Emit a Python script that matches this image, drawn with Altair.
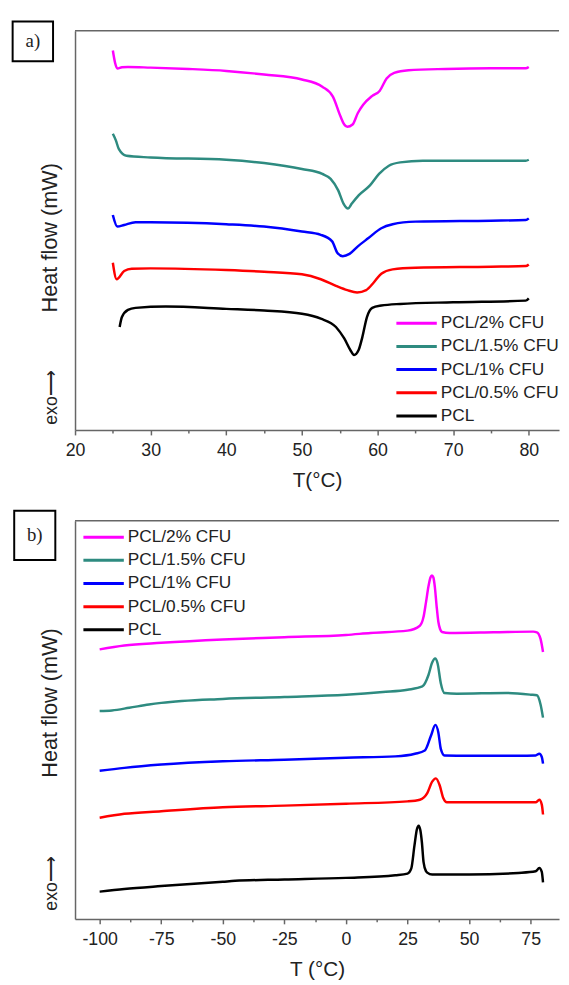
import altair as alt
import pandas as pd

series = ["PCL/2% CFU", "PCL/1.5% CFU", "PCL/1% CFU", "PCL/0.5% CFU", "PCL"]
colors = ["#FF00FF", "#2E8B80", "#0000FF", "#FF0000", "#000000"]

# ---------------- panel a (heating) ----------------
a_T_2 = [25.0, 25.3, 25.6, 26.2, 27.0, 30.0, 35.0, 40.0, 45.0, 50.0, 52.7, 54.1, 55.1, 55.6, 56.0, 56.7, 57.4, 58.1, 59.3, 60.3, 61.2, 62.2, 64.1, 69.0, 75.0, 79.6, 80.0]
a_H_2 = [115.3, 111.5, 109.8, 110.2, 110.3, 110.1, 109.7, 109.1, 108.0, 106.5, 104.3, 101.3, 95.3, 92.8, 92.1, 92.8, 96.3, 98.8, 101.5, 103.1, 106.8, 108.5, 109.3, 109.7, 109.9, 109.9, 110.3]

a_T_15 = [25.0, 25.4, 25.8, 26.8, 30.0, 40.0, 45.0, 50.0, 52.7, 53.8, 54.8, 55.5, 56.1, 56.6, 57.5, 59.0, 60.2, 61.5, 63.0, 66.0, 75.0, 79.6, 80.0]
a_H_15 = [90.0, 88.0, 85.3, 83.3, 82.8, 82.1, 81.1, 79.3, 77.8, 76.3, 72.8, 68.8, 67.3, 68.8, 71.3, 74.3, 77.8, 80.3, 81.3, 81.8, 81.8, 81.8, 82.1]

a_T_1 = [25.0, 25.6, 26.5, 28.0, 30.0, 40.0, 45.0, 50.0, 52.5, 54.0, 54.7, 55.4, 56.3, 57.4, 58.8, 60.5, 62.0, 65.0, 75.0, 79.6, 80.0]
a_H_1 = [65.3, 61.8, 62.3, 63.1, 63.1, 62.5, 61.8, 60.3, 59.3, 57.3, 53.8, 52.8, 53.5, 55.8, 58.3, 61.3, 62.5, 63.3, 63.6, 63.8, 64.3]

a_T_05 = [25.0, 25.5, 26.5, 27.5, 30.0, 40.0, 45.0, 50.0, 52.5, 54.5, 56.0, 57.3, 58.5, 59.5, 60.5, 62.0, 65.0, 75.0, 79.6, 80.0]
a_H_05 = [50.8, 45.8, 48.3, 49.0, 49.1, 48.6, 48.1, 47.3, 45.8, 43.8, 42.5, 41.8, 42.5, 44.8, 47.5, 48.8, 49.3, 49.6, 49.8, 50.3]

a_T_0 = [25.9, 26.2, 27.0, 28.0, 32.0, 40.0, 45.0, 50.0, 52.5, 54.5, 55.6, 56.4, 56.9, 57.5, 58.0, 58.6, 59.3, 60.5, 63.0, 70.0, 79.6, 80.0]
a_H_0 = [31.3, 34.3, 36.5, 37.1, 37.5, 36.8, 36.3, 35.3, 33.8, 31.3, 27.8, 24.3, 22.8, 24.3, 28.3, 34.3, 37.1, 37.8, 38.3, 38.8, 39.3, 40.0]

# ---------------- panel b (cooling) ----------------
b_T_2 = [-100, -90, -75, -50, -25, 0, 10, 25, 30, 31.5, 32.5, 33.5, 34.3, 34.9, 35.5, 36.1, 36.8, 37.5, 38.2, 39, 42, 60, 76, 77.5, 79, 80]
b_H_2 = [82.1, 83.3, 84.1, 85.1, 85.8, 86.5, 87.1, 87.8, 89.3, 92.0, 96.5, 101.3, 104.0, 104.6, 104.0, 101.0, 95.3, 90.5, 88.3, 87.4, 87.1, 87.3, 87.5, 87.3, 85.3, 81.3]

b_T_15 = [-100, -95, -88, -80, -75, -50, -25, 0, 15, 25, 31, 33.5, 35, 36.2, 37.2, 38.5, 40, 45, 65, 75, 77.5, 79, 80]
b_H_15 = [63.3, 63.5, 64.3, 65.3, 65.8, 67.0, 67.6, 68.3, 69.1, 69.8, 70.8, 74.3, 78.1, 79.3, 77.8, 71.8, 68.8, 68.6, 68.8, 68.3, 68.1, 65.3, 61.3]

b_T_1 = [-100, -90, -75, -50, -25, 0, 20, 28, 32, 34.5, 36.3, 37.5, 38.5, 40, 50, 70, 77, 78.5, 79.5, 80]
b_H_1 = [45.1, 46.0, 47.0, 48.0, 48.5, 49.1, 49.5, 50.3, 51.3, 55.8, 59.1, 56.8, 51.8, 49.8, 49.7, 49.7, 49.8, 50.3, 49.3, 47.3]

b_T_05 = [-100, -90, -75, -50, -25, 0, 25, 30, 33, 35, 36.5, 38, 39.5, 41, 60, 77, 78.5, 79.5, 80]
b_H_05 = [30.8, 32.0, 32.8, 34.0, 34.5, 35.1, 35.8, 36.3, 38.3, 41.8, 42.8, 40.8, 36.8, 35.5, 35.5, 35.5, 36.3, 34.8, 31.8]

b_T_0 = [-100, -90, -75, -50, -45, -25, 0, 20, 25, 26.5, 27.8, 28.8, 29.5, 30.2, 30.8, 31.5, 32.5, 33, 35, 50, 70, 77, 78.5, 79.5, 80]
b_H_0 = [8.3, 9.1, 10.0, 11.3, 11.6, 12.0, 12.5, 13.3, 13.8, 15.3, 22.3, 27.3, 28.4, 27.0, 23.5, 17.3, 14.5, 14.1, 13.5, 13.5, 14.0, 14.5, 15.5, 14.3, 11.1]

a_ticks = [20, 25, 30, 35, 40, 45, 50, 55, 60, 65, 70, 75, 80]
b_ticks = [-100, -87.5, -75, -62.5, -50, -37.5, -25, -12.5, 0, 12.5, 25, 37.5, 50, 62.5, 75]


def frame(pairs):
    rows = []
    for name, (ts, hs) in zip(series, pairs):
        for i, (t, h) in enumerate(zip(ts, hs)):
            rows.append({"T": t, "H": h, "series": name, "i": i})
    return pd.DataFrame(rows)


df_a = frame([(a_T_2, a_H_2), (a_T_15, a_H_15), (a_T_1, a_H_1), (a_T_05, a_H_05), (a_T_0, a_H_0)])
df_b = frame([(b_T_2, b_H_2), (b_T_15, b_H_15), (b_T_1, b_H_1), (b_T_05, b_H_05), (b_T_0, b_H_0)])

W = 491
one = pd.DataFrame({"k": [0]})
FONT = "Liberation Sans"


def panel(df, xdom, ticks, major, title, H, legx, legy, letter, box, ylab_y, exo_y):
    lines = alt.Chart(df).mark_line(strokeWidth=2.5, clip=True, interpolate="monotone").encode(
        x=alt.X("T:Q", scale=alt.Scale(domain=xdom, nice=False, zero=False),
                axis=alt.Axis(values=ticks, grid=False, labelFlush=False,
                              labelExpr=f"datum.value % {major} === 0 ? '' + datum.value : ''",
                              tickSize={"condition": {"test": f"datum.value % {major} === 0", "value": 5}, "value": 3},
                              title=title)),
        y=alt.Y("H:Q", scale=alt.Scale(domain=[0, 121.3], nice=False, zero=False),
                axis=alt.Axis(labels=False, ticks=False, grid=False, title=None)),
        color=alt.Color("series:N", sort=series,
                        scale=alt.Scale(domain=series, range=colors),
                        legend=alt.Legend(orient="none", legendX=legx, legendY=legy, title=None,
                                          symbolType="M-4.1,0H4.1", symbolSize=100, symbolStrokeWidth=3,
                                          labelFont=FONT, labelFontSize=17.5, labelColor="#222",
                                          labelOffset=15.75, rowPadding=4.5, padding=0, labelLimit=300)),
        order="i:Q",
    )
    top = alt.Chart(one).mark_rule(color="#666", strokeWidth=1.5).encode(
        x=alt.value(0), x2=alt.value(W), y=alt.value(0))
    rect = alt.Chart(one).mark_rect(fill="transparent", stroke="black", strokeWidth=2).encode(
        x=alt.value(box[0]), x2=alt.value(box[1]), y=alt.value(box[2]), y2=alt.value(box[3]))
    lab = alt.Chart(one).mark_text(text=letter, font="Liberation Serif", fontSize=19, color="#222",
                                   align="center", baseline="middle").encode(
        x=alt.value((box[0] + box[1]) / 2), y=alt.value((box[2] + box[3]) / 2))
    ylab = alt.Chart(one).mark_text(text="Heat flow (mW)", font=FONT, fontSize=22, color="#222",
                                    angle=270, align="center", baseline="middle").encode(
        x=alt.value(-25), y=alt.value(ylab_y))
    exo = alt.Chart(one).mark_text(text="exo\u27f6", font=FONT, fontSize=18, color="#222",
                                   angle=270, align="center", baseline="middle").encode(
        x=alt.value(-23), y=alt.value(exo_y))
    return alt.layer(lines, top, rect, lab, ylab, exo).properties(width=W, height=H)


pa = panel(df_a, [20, 84], a_ticks, 10, "T(°C)", 405, 337.75, 288, "a)",
           (-63.3, -22.3, -9.3, 31), 210, 372)
pb = panel(df_b, [-110, 86.5], b_ticks, 25, "T (°C)", 404, 20.25, 8, "b)",
           (-61.7, -20, -10, 40), 185, 368)

chart = alt.vconcat(pa, pb, spacing=18).resolve_scale(color="independent").properties(
    padding={"left": 3, "top": 5, "right": 0, "bottom": 0}
).configure_view(stroke="transparent").configure_axis(
    domainColor="#666", domainWidth=1.5, tickColor="#666", tickWidth=1.5,
    labelFont=FONT, labelFontSize=18, labelColor="#222", labelPadding=7,
    titleFont=FONT, titleFontSize=21, titleFontWeight="normal", titleColor="#222", titlePadding=10,
)

chart.save("out.html", embed_options={"renderer": "svg", "actions": False})
